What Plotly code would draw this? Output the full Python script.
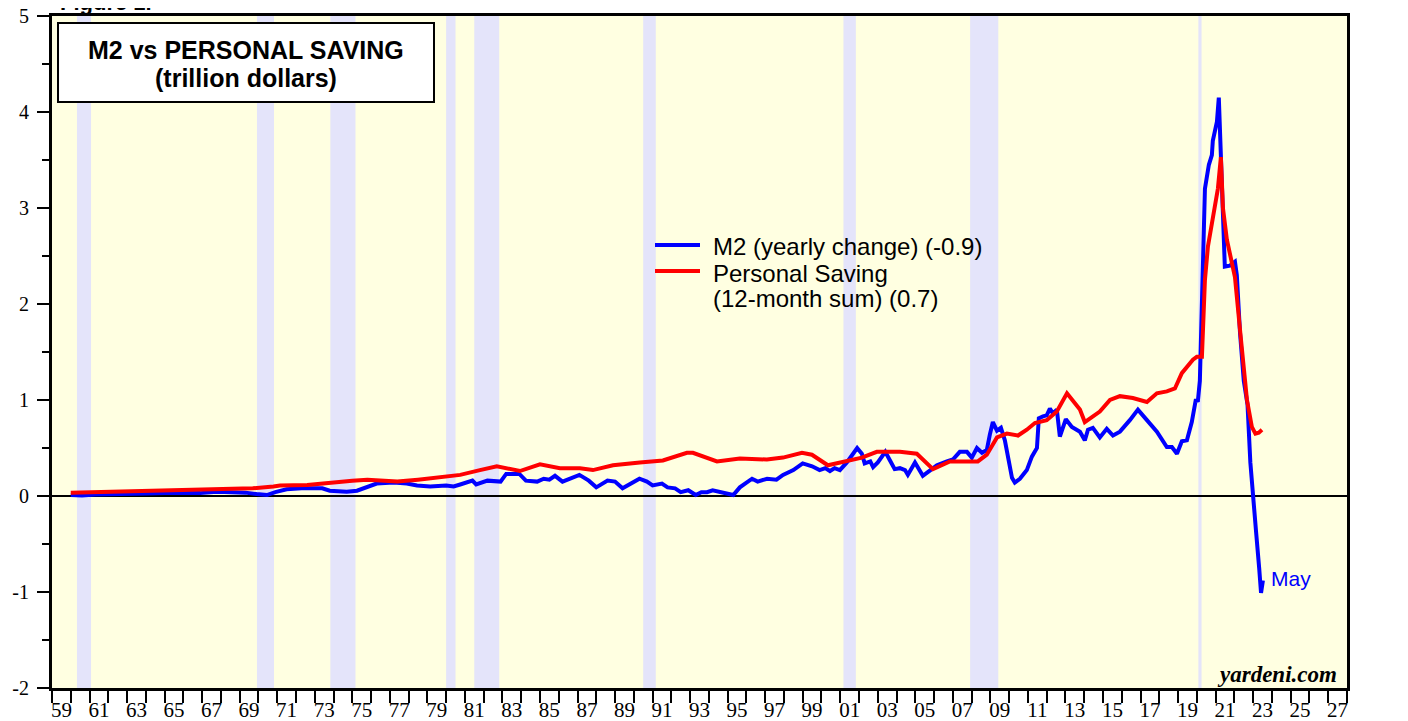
import plotly.graph_objects as go

# ---------- Data ----------
M2_YEARS = [1960.0, 1960.6, 1961.3, 1962.0, 1963.0, 1964.0, 1965.0, 1966.0, 1966.9, 1967.8,
            1968.6, 1969.3, 1969.9, 1970.45, 1970.9, 1971.5, 1972.3, 1973.0, 1973.4, 1973.8,
            1974.7, 1975.25, 1975.8, 1976.3, 1977.2, 1977.9, 1978.45, 1979.15, 1980.0, 1980.4,
            1980.75, 1981.4, 1981.6, 1982.2, 1982.9, 1983.2, 1983.9, 1984.25, 1984.85, 1985.2,
            1985.5, 1985.8, 1986.2, 1986.6, 1987.1, 1987.6, 1988.0, 1988.6, 1989.0, 1989.4,
            1989.9, 1990.3, 1990.7, 1991.0, 1991.5, 1991.8, 1992.2, 1992.5, 1992.9, 1993.3,
            1993.6, 1993.9, 1994.2, 1994.6, 1994.96, 1995.3, 1995.65, 1996.3, 1996.6, 1997.1,
            1997.6, 1997.95, 1998.5, 1999.0, 1999.5, 1999.9, 2000.2, 2000.45, 2000.7, 2000.98,
            2001.35, 2001.9, 2002.15, 2002.3, 2002.6, 2002.75, 2003.0, 2003.4, 2003.65, 2003.9,
            2004.18, 2004.45, 2004.6, 2004.98, 2005.4, 2005.78, 2006.15, 2006.68, 2007.0, 2007.37,
            2007.75, 2008.01, 2008.28, 2008.55, 2008.81, 2008.97, 2009.13, 2009.35, 2009.56, 2009.77,
            2009.93, 2010.15, 2010.3, 2010.57, 2010.94, 2011.21, 2011.48, 2011.58, 2011.8, 2012.0,
            2012.17, 2012.33, 2012.54, 2012.7, 2013.02, 2013.34, 2013.77, 2014.03, 2014.2, 2014.46,
            2014.83, 2015.2, 2015.53, 2015.9, 2016.43, 2016.86, 2017.34, 2017.87, 2018.4, 2018.67,
            2018.94, 2019.2, 2019.47, 2019.73, 2019.95, 2020.05, 2020.16, 2020.43, 2020.64, 2020.8,
            2020.85, 2021.07, 2021.17, 2021.33, 2021.49, 2021.76, 2022.03, 2022.13, 2022.3, 2022.5,
            2022.7, 2022.85, 2022.98, 2023.15, 2023.32, 2023.42, 2023.52]
M2_CHANGE = [0.01, 0.005, 0.015, 0.02, 0.025, 0.025, 0.03, 0.03, 0.03, 0.045,
             0.045, 0.035, 0.02, 0.01, 0.04, 0.07, 0.08, 0.085, 0.08, 0.055,
             0.045, 0.055, 0.10, 0.13, 0.14, 0.13, 0.11, 0.10, 0.11, 0.10,
             0.12, 0.16, 0.12, 0.16, 0.15, 0.23, 0.23, 0.16, 0.15, 0.18,
             0.17, 0.21, 0.15, 0.18, 0.22, 0.16, 0.09, 0.16, 0.15, 0.08,
             0.14, 0.18, 0.15, 0.11, 0.13, 0.09, 0.08, 0.04, 0.06, 0.01,
             0.04, 0.04, 0.06, 0.04, 0.02, 0.01, 0.09, 0.18, 0.15, 0.18,
             0.17, 0.22, 0.27, 0.34, 0.31, 0.27, 0.29, 0.26, 0.29, 0.27,
             0.35, 0.50, 0.44, 0.34, 0.36, 0.30, 0.35, 0.46, 0.37, 0.28,
             0.29, 0.27, 0.22, 0.35, 0.21, 0.26, 0.32, 0.36, 0.38, 0.46,
             0.46, 0.40, 0.50, 0.45, 0.48, 0.64, 0.77, 0.68, 0.71, 0.58,
             0.41, 0.19, 0.14, 0.18, 0.27, 0.41, 0.50, 0.81, 0.83, 0.84,
             0.91, 0.86, 0.90, 0.62, 0.80, 0.72, 0.67, 0.58, 0.69, 0.71,
             0.61, 0.70, 0.63, 0.67, 0.79, 0.90, 0.79, 0.67, 0.51, 0.51,
             0.44, 0.57, 0.58, 0.77, 1.01, 0.98, 1.20, 3.20, 3.45, 3.55,
             3.70, 3.90, 4.15, 3.30, 2.39, 2.40, 2.44, 2.30, 1.70, 1.20,
             0.95, 0.35, 0.00, -0.36, -0.75, -1.01, -0.88]

SAVING_YEARS = [1960.0, 1963.7, 1967.3, 1969.7, 1970.8, 1971.15, 1972.6, 1973.8, 1975.0, 1975.8,
                1977.4, 1978.5, 1980.0, 1980.75, 1981.8, 1982.7, 1983.93, 1985.0, 1986.06, 1987.13,
                1987.82, 1988.89, 1990.32, 1991.55, 1992.83, 1993.15, 1994.43, 1995.65, 1997.09, 1997.95,
                1998.96, 1999.49, 2000.34, 2001.35, 2002.15, 2002.95, 2004.18, 2005.08, 2005.94, 2006.84,
                2008.33, 2008.81, 2009.35, 2009.88, 2010.47, 2010.94, 2011.37, 2012.0, 2012.54, 2013.08,
                2013.77, 2014.03, 2014.83, 2015.37, 2015.9, 2016.59, 2017.34, 2017.87, 2018.4, 2018.83,
                2019.2, 2019.79, 2020.0, 2020.27, 2020.43, 2020.59, 2020.96, 2021.12, 2021.28, 2021.39,
                2021.6, 2022.03, 2022.3, 2022.67, 2022.93, 2023.12, 2023.3, 2023.47]
SAVING_SUM = [0.035, 0.055, 0.07, 0.08, 0.10, 0.11, 0.115, 0.14, 0.16, 0.17,
              0.15, 0.17, 0.20, 0.22, 0.27, 0.31, 0.26, 0.33, 0.29, 0.29,
              0.27, 0.32, 0.35, 0.37, 0.45, 0.45, 0.36, 0.39, 0.38, 0.40,
              0.45, 0.43, 0.32, 0.37, 0.40, 0.46, 0.46, 0.44, 0.28, 0.36,
              0.36, 0.43, 0.61, 0.65, 0.63, 0.69, 0.76, 0.79, 0.88, 1.07,
              0.90, 0.77, 0.88, 1.00, 1.04, 1.02, 0.98, 1.07, 1.09, 1.12,
              1.28, 1.42, 1.45, 1.45, 2.25, 2.60, 2.98, 3.20, 3.53, 3.00,
              2.67, 2.28, 1.73, 1.00, 0.72, 0.65, 0.66, 0.69]

RECESSION_START = [1960.33, 1969.92, 1973.83, 1980.0, 1981.5, 1990.5, 2001.17, 2007.92, 2020.08]
RECESSION_END = [1961.08, 1970.83, 1975.17, 1980.5, 1982.83, 1991.17, 2001.83, 2009.42, 2020.25]

YEAR_LABELS = [f"{y % 100:02d}" for y in range(1959, 2028, 2)]
YEAR_LABEL_POS = [y + 0.5 for y in range(1959, 2028, 2)]
Y_TICKS = [-2, -1, 0, 1, 2, 3, 4, 5]
Y_LABELS = ["-2", "-1", "0", "1", "2", "3", "4", "5"]

M2_LABEL = "M2 (yearly change) (-0.9)"
SAVING_LABEL = ["Personal Saving", "(12-month sum) (0.7)"]

# ---------- Style ----------
SANS = "Liberation Sans, Arial, sans-serif"
SERIF = "Liberation Serif, Times New Roman, serif"
BLUE, RED = "#0000FF", "#FF0000"

# page body has an 8px margin, so the figure is drawn 8px in from the window corner
OFF = 8
W, H = 1400, 713
L, T = 52 - OFF, 16 - OFF
R, B = W - (1347 - OFF), H - (688 - OFF)
PW, PH = W - L - R, H - T - B


def px_x(px):
    # window pixel -> paper fraction
    return (px - OFF - L) / PW


def px_y(py):
    return (H - B - (py - OFF)) / PH


fig = go.Figure()
fig.add_trace(go.Scatter(x=M2_YEARS, y=M2_CHANGE, mode="lines", name=M2_LABEL,
                         line=dict(color=BLUE, width=4)))
fig.add_trace(go.Scatter(x=SAVING_YEARS, y=SAVING_SUM, mode="lines",
                         name=" ".join(SAVING_LABEL), line=dict(color=RED, width=4)))

shapes = []
for s, e in zip(RECESSION_START, RECESSION_END):
    shapes.append(dict(type="rect", xref="x", yref="paper", x0=s, x1=e, y0=0, y1=1,
                       fillcolor="#E4E4FA", line=dict(width=0), layer="below"))
# title box
shapes.append(dict(type="rect", xref="paper", yref="paper",
                   x0=px_x(58), x1=px_x(434), y0=px_y(102), y1=px_y(23),
                   fillcolor="white", line=dict(color="black", width=2), layer="above"))
# legend keys
for py, col in [(245, BLUE), (271, RED)]:
    shapes.append(dict(type="line", xref="paper", yref="paper",
                       x0=px_x(655), x1=px_x(700), y0=px_y(py), y1=px_y(py),
                       line=dict(color=col, width=4), layer="above"))


def note(text, x, y, size, color="black", family=SANS, xanchor="left"):
    return dict(text=text, xref="paper", yref="paper", x=x, y=y, xanchor=xanchor,
                yanchor="middle", showarrow=False, font=dict(family=family, size=size, color=color))


annotations = [
    note("<b>M2 vs PERSONAL SAVING</b>", px_x(246), px_y(50), 25, xanchor="center"),
    note("<b>(trillion dollars)</b>", px_x(246), px_y(78), 25, xanchor="center"),
    note(M2_LABEL, px_x(711), px_y(246), 24),
    note(SAVING_LABEL[0], px_x(711), px_y(273), 24),
    note(SAVING_LABEL[1], px_x(711), px_y(299), 24),
    dict(text="May", x=2023.84, y=-0.86, xanchor="left", yanchor="middle", showarrow=False,
         font=dict(family=SANS, size=21, color=BLUE)),
    note("<b><i>yardeni.com</i></b>", px_x(1339), px_y(674), 23, family=SERIF, xanchor="right"),
    note("<b>Figure 1.</b>", px_x(58), px_y(2), 22),
]

yaxis_common = dict(range=[-2, 5], tickmode="array", tickvals=Y_TICKS, ticktext=Y_LABELS,
                    ticks="outside", ticklen=12, tickwidth=2, tickcolor="black",
                    showgrid=False, automargin=False, ticklabeloverflow="allow",
                    tickfont=dict(family=SERIF, size=20, color="black"),
                    minor=dict(tickmode="linear", tick0=0, dtick=0.5, ticks="outside",
                               ticklen=7, tickwidth=2, tickcolor="black", showgrid=False))

fig.update_layout(
    width=W, height=H,
    margin=dict(l=L, r=R, t=T, b=B, autoexpand=False),
    paper_bgcolor="white",
    plot_bgcolor="#FFFFE1",
    showlegend=False,
    xaxis=dict(range=[1959, 2028], tickmode="array", tickvals=YEAR_LABEL_POS,
               ticktext=YEAR_LABELS, ticks="", showgrid=False, zeroline=False,
               showline=True, linewidth=3, linecolor="black", mirror=True,
               ticklabelstandoff=1, automargin=False, ticklabeloverflow="allow",
               tickfont=dict(family=SERIF, size=21, color="black"),
               minor=dict(tickmode="linear", tick0=1959, dtick=1, ticks="outside",
                          ticklen=12, tickwidth=2, tickcolor="black", showgrid=False)),
    yaxis=dict(**yaxis_common, showline=True, linewidth=3, linecolor="black", mirror=True,
               zeroline=True, zerolinecolor="black", zerolinewidth=1.5,
               ticklabelstandoff=4),
    yaxis2=dict(**yaxis_common, overlaying="y", side="right", showline=False,
                zeroline=False, ticklabelstandoff=6),
    shapes=shapes,
    annotations=annotations,
)

fig.write_html("out.html")
